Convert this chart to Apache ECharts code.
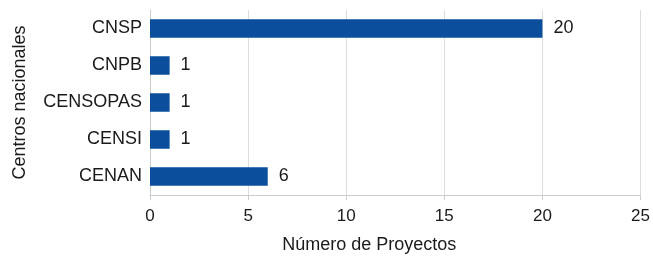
<!DOCTYPE html>
<html>
<head>
<meta charset="utf-8">
<script src="https://cdn.jsdelivr.net/npm/echarts@6/dist/echarts.min.js"></script>
<style>
html, body { margin: 0; padding: 0; background: #fff; }
#chart { width: 653px; height: 259px; }
</style>
</head>
<body>
<div id="chart"></div>
<script>
var centros = ['CENAN', 'CENSI', 'CENSOPAS', 'CNPB', 'CNSP'];
var proyectos = [6, 1, 1, 1, 20];
var xTicks = [0, 5, 10, 15, 20, 25];

var chart_centros = echarts.init(document.getElementById('chart'));
chart_centros.setOption({
    color: ['#0b4f9c'],
    textStyle: { fontFamily: 'Liberation Sans, Arial, sans-serif' },
    grid: {
        left: 150,
        right: 11,
        top: 10,
        bottom: 64
    },
    xAxis: {
        type: 'value',
        min: xTicks[0],
        max: xTicks[xTicks.length - 1],
        interval: 5,
        name: 'Número de Proyectos',
        nameLocation: 'middle',
        nameGap: 41,
        nameTextStyle: { fontSize: 18, color: '#1a1a1a', padding: [0, 52, 0, 0] },
        axisLine: { show: true, lineStyle: { color: '#ccc', width: 1 } },
        axisTick: { show: true, length: 5, lineStyle: { color: '#ccc' } },
        axisLabel: { fontSize: 17, color: '#1a1a1a', margin: 13 },
        splitLine: { show: true, lineStyle: { color: '#ddd' } }
    },
    yAxis: {
        type: 'category',
        data: centros,
        name: 'Centros nacionales',
        nameLocation: 'middle',
        nameGap: 121,
        nameTextStyle: { fontSize: 18, color: '#1a1a1a' },
        axisLine: { show: true, lineStyle: { color: '#ccc', width: 1 } },
        axisTick: { show: false },
        axisLabel: { fontSize: 18, color: '#1a1a1a', margin: 8 }
    },
    series: [
        {
            name: 'Proyectos', type: 'bar', barWidth: '50%',
            label: { show: true, position: 'right', distance: 11, fontSize: 18, color: '#1a1a1a' },
            data: proyectos
        }
    ]
});
</script>
</body>
</html>
